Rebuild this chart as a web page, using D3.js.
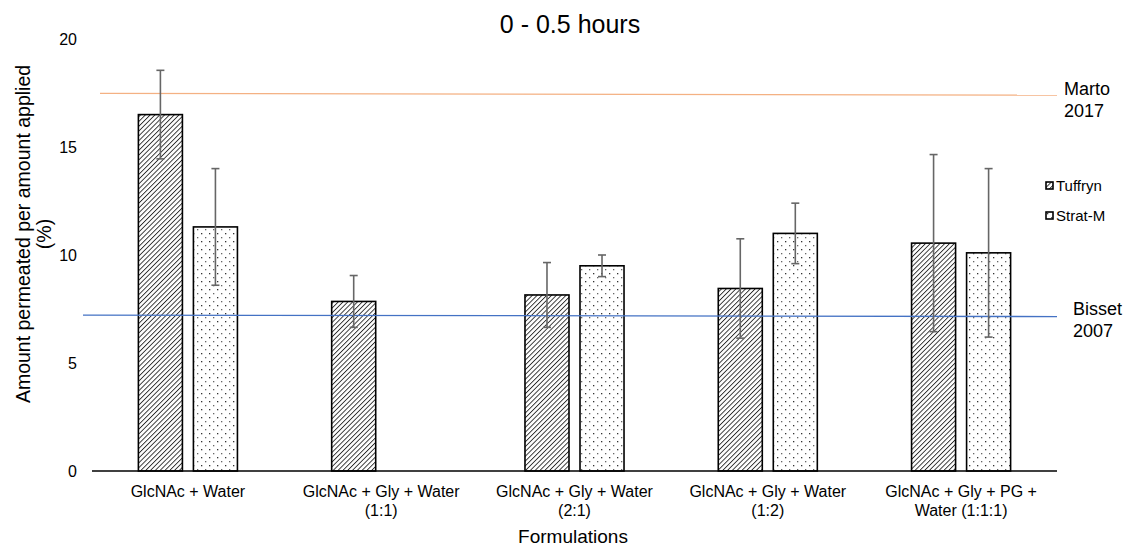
<!doctype html>
<html>
<head>
<meta charset="UTF-8">
<script src="https://d3js.org/d3.v7.min.js"></script>
<style>
  body { margin: 0; background: #fff; }
  text { font-family: Arial, "Liberation Sans", sans-serif; fill: #000; }
</style>
</head>
<body>
<svg id="chart" width="1132" height="548"></svg>
<script>

// data
var formulations = [
    ["GlcNAc + Water"],
    ["GlcNAc + Gly + Water", "(1:1)"],
    ["GlcNAc + Gly + Water", "(2:1)"],
    ["GlcNAc + Gly + Water", "(1:2)"],
    ["GlcNAc + Gly + PG +", "Water (1:1:1)"]
];
var series = ["Tuffryn", "Strat-M"];
var tuffryn = [16.5, 7.85, 8.15, 8.45, 10.55];
var tuffrynErr = [2.05, 1.2, 1.5, 2.3, 4.1];
var stratM = [11.3, null, 9.5, 11.0, 10.1];
var stratMErr = [2.7, null, 0.5, 1.4, 3.9];
var yTicks = [0, 5, 10, 15, 20];
var refLines = [
    { name: ["Marto", "2017"], from: 17.48, to: 17.4, start: 100, color: "#f4b183" },
    { name: ["Bisset", "2007"], from: 7.22, to: 7.15, start: 83, color: "#4472c4" }
];

var svg = d3.select("#chart");
var margin = { left: 92, right: 75, top: 40, bottom: 77 };
var width = 1132, height = 548;

var x = d3.scaleBand()
    .domain(d3.range(formulations.length))
    .range([margin.left, width - margin.right])
    .paddingInner(0.4876)
    .paddingOuter(0.24);

var x1 = d3.scaleBand()
    .domain(series)
    .range([0, x.bandwidth()])
    .paddingInner(0.2);

var y = d3.scaleLinear()
    .domain([0, 20])
    .range([height - margin.bottom, margin.top - 1]);

// patterns
var defs = svg.append("defs");
var hatch = defs.append("pattern")
    .attr("id", "hatch")
    .attr("patternUnits", "userSpaceOnUse")
    .attr("width", 3.4).attr("height", 3.4)
    .attr("patternTransform", "rotate(45)");
hatch.append("rect").attr("width", 3.4).attr("height", 3.4).attr("fill", "#fff");
hatch.append("line")
    .attr("x1", 0).attr("y1", 0).attr("x2", 0).attr("y2", 3.4)
    .attr("stroke", "#2a2a2a").attr("stroke-width", 1.8);

var dots = defs.append("pattern")
    .attr("id", "dots")
    .attr("patternUnits", "userSpaceOnUse")
    .attr("width", 8).attr("height", 8);
dots.append("rect").attr("width", 8).attr("height", 8).attr("fill", "#fff");
dots.append("rect").attr("x", 1).attr("y", 1).attr("width", 1.3).attr("height", 1.3).attr("fill", "#333");
dots.append("rect").attr("x", 5).attr("y", 5).attr("width", 1.3).attr("height", 1.3).attr("fill", "#666");

var fills = { "Tuffryn": "url(#hatch)", "Strat-M": "url(#dots)" };

// title
svg.append("text")
    .attr("x", 570).attr("y", 33)
    .attr("text-anchor", "middle")
    .style("font-size", "25px")
    .text("0 - 0.5 hours");

// y axis labels (no line)
svg.append("g")
    .selectAll("text")
    .data(yTicks)
    .enter().append("text")
    .attr("x", 77)
    .attr("y", function (d) { return y(d) + 6; })
    .attr("text-anchor", "end")
    .style("font-size", "16px")
    .text(function (d) { return d; });

// y title
var yt = svg.append("text")
    .attr("transform", "translate(30,234) rotate(-90)")
    .attr("text-anchor", "middle")
    .style("font-size", "19.5px");
yt.append("tspan").attr("x", 0).attr("dy", 0).text("Amount permeated per amount applied");
yt.append("tspan").attr("x", 0).attr("dy", 21).text("(%)");

// bars
var rows = [];
formulations.forEach(function (f, i) {
    rows.push({ i: i, s: "Tuffryn", v: tuffryn[i], e: tuffrynErr[i] });
    rows.push({ i: i, s: "Strat-M", v: stratM[i], e: stratMErr[i] });
});
rows = rows.filter(function (d) { return d.v != null; });

svg.append("g")
    .selectAll("rect")
    .data(rows)
    .enter().append("rect")
    .attr("x", function (d) { return x(d.i) + x1(d.s); })
    .attr("y", function (d) { return y(d.v); })
    .attr("width", x1.bandwidth())
    .attr("height", function (d) { return y(0) - y(d.v); })
    .attr("fill", function (d) { return fills[d.s]; })
    .attr("stroke", "#000")
    .attr("stroke-width", 1.6);

// reference lines
refLines.forEach(function (r) {
    svg.append("line")
        .attr("x1", r.start).attr("x2", width - margin.right)
        .attr("y1", y(r.from)).attr("y2", y(r.to))
        .attr("stroke", r.color)
        .attr("stroke-width", 1.3);
});

// error bars
var eb = svg.append("g").attr("stroke", "#666").attr("stroke-width", 1.6);
rows.forEach(function (d) {
    var cx = x(d.i) + x1(d.s) + x1.bandwidth() / 2;
    eb.append("line").attr("x1", cx).attr("x2", cx)
        .attr("y1", y(d.v + d.e)).attr("y2", y(d.v - d.e));
    eb.append("line").attr("x1", cx - 4).attr("x2", cx + 4)
        .attr("y1", y(d.v + d.e)).attr("y2", y(d.v + d.e));
    eb.append("line").attr("x1", cx - 4).attr("x2", cx + 4)
        .attr("y1", y(d.v - d.e)).attr("y2", y(d.v - d.e));
});

// x axis line
svg.append("line")
    .attr("x1", margin.left).attr("x2", width - margin.right)
    .attr("y1", y(0)).attr("y2", y(0))
    .attr("stroke", "#000").attr("stroke-width", 1.5);

// x labels
var xl = svg.append("g")
    .selectAll("text")
    .data(formulations)
    .enter().append("text")
    .attr("text-anchor", "middle")
    .style("font-size", "16px");
xl.each(function (lines, i) {
    var t = d3.select(this);
    lines.forEach(function (l, k) {
        t.append("tspan")
            .attr("x", x(i) + x.bandwidth() / 2)
            .attr("y", 497 + k * 19)
            .text(l);
    });
});

svg.append("text")
    .attr("x", 573).attr("y", 543)
    .attr("text-anchor", "middle")
    .style("font-size", "19px")
    .text("Formulations");

// reference labels
refLines.forEach(function (r, j) {
    var lx = j === 0 ? 1064 : 1073, ly = j === 0 ? 95 : 315;
    r.name.forEach(function (n, k) {
        svg.append("text").attr("x", lx).attr("y", ly + k * 22)
            .style("font-size", "18px").text(n);
    });
});

// legend
var leg = svg.append("g")
    .selectAll("g")
    .data(series)
    .enter().append("g")
    .attr("transform", function (d, i) { return "translate(1046," + (182 + i * 30) + ")"; });
leg.append("rect")
    .attr("width", 7).attr("height", 7)
    .attr("fill", function (d) { return fills[d]; })
    .attr("stroke", "#000").attr("stroke-width", 1.6);
leg.append("text")
    .attr("x", 10).attr("y", 9)
    .style("font-size", "15px")
    .text(function (d) { return d; });

</script>
</body>
</html>
